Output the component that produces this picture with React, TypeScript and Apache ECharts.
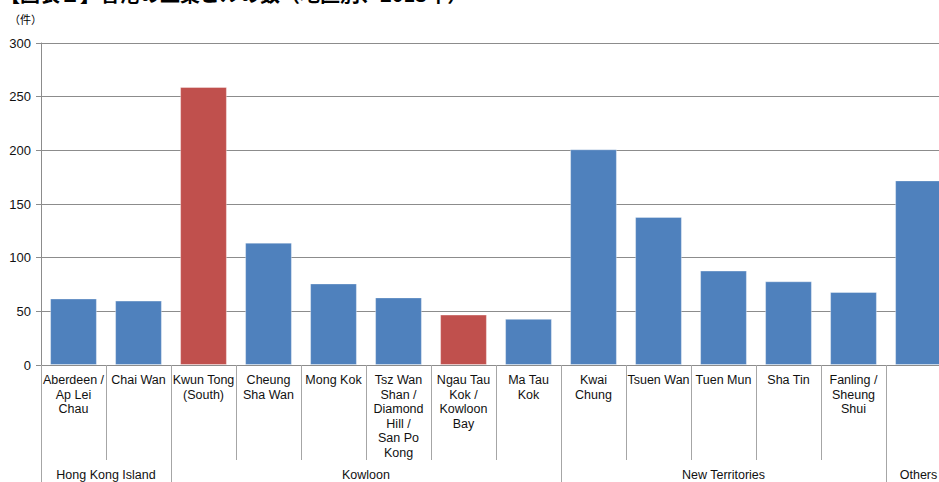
import React, { useEffect, useRef } from "react";
import * as echarts from "echarts";

const categories = [
  "Aberdeen /\nAp Lei\nChau",
  "Chai Wan",
  "Kwun Tong\n(South)",
  "Cheung\nSha Wan",
  "Mong Kok",
  "Tsz Wan\nShan /\nDiamond\nHill /\nSan Po\nKong",
  "Ngau Tau\nKok /\nKowloon\nBay",
  "Ma Tau\nKok",
  "Kwai\nChung",
  "Tsuen Wan",
  "Tuen Mun",
  "Sha Tin",
  "Fanling /\nSheung\nShui",
  "Others",
];
const values = [62, 60, 259, 114, 76, 63, 47, 43, 201, 138, 88, 78, 68, 172];
const highlighted = [false, false, true, false, false, false, true, false, false, false, false, false, false, false];
const groupNames = ["Hong Kong Island", "Kowloon", "New Territories", "Others"];
const groupBounds = [0, 2, 8, 13, 14];
const yTicks = { min: 0, max: 300, interval: 50 };

const BLUE = "#4f81bd";
const RED = "#c0504d";
const GRAY = "#8c8c8c";
const SEP = "#a6a6a6";
const FONT = "Liberation Sans, Arial, sans-serif";

export default function App() {
  const ref = useRef<HTMLDivElement>(null);
  useEffect(() => {
    if (!ref.current) return;
    const chart = echarts.init(ref.current, undefined, { renderer: "svg" });
    const groupCenters = groupNames.map((_, i) => (groupBounds[i] + groupBounds[i + 1]) / 2);
    chart.setOption({
      animation: false,
      backgroundColor: "#fff",
      textStyle: { fontFamily: FONT },
      graphic: [
        {
          type: "text",
          left: 0,
          top: -17,
          style: {
            text: "【図表１】香港の工業ビルの数（地区別、2013年）",
            font: "bold 20px 'Noto Sans CJK JP', sans-serif",
            fill: "#000",
          },
        },
        {
          type: "text",
          left: 9,
          top: 13,
          style: {
            text: "（件）",
            font: "11px 'Noto Sans CJK JP', sans-serif",
            fill: "#000",
          },
        },
      ],
      grid: { left: 41, top: 43, height: 322, width: 910, containLabel: false },
      xAxis: [
        {
          type: "category",
          data: categories,
          axisLine: { show: true, lineStyle: { color: GRAY, width: 1 } },
          axisTick: { show: true, length: 95, lineStyle: { color: SEP }, interval: 0 },
          axisLabel: {
            interval: 0,
            color: "#111",
            fontSize: 12.5,
            fontFamily: FONT,
            lineHeight: 14.5,
            margin: 8,
            verticalAlign: "top",
            formatter: (v: string, i: number) => (i === categories.length - 1 ? "" : v),
          },
        },
        {
          type: "value",
          position: "bottom",
          min: 0,
          max: 14,
          axisLine: { show: false },
          splitLine: { show: false },
          axisTick: {
            show: true,
            length: 118,
            customValues: groupBounds,
            lineStyle: { color: SEP },
          },
          axisLabel: {
            show: true,
            customValues: groupCenters,
            margin: 103,
            color: "#111",
            fontSize: 12.5,
            fontFamily: FONT,
            formatter: (v: number) => {
              const i = groupCenters.findIndex((c) => Math.abs(c - v) < 1e-6);
              return i >= 0 ? groupNames[i] : "";
            },
          },
        },
      ],
      yAxis: {
        type: "value",
        min: yTicks.min,
        max: yTicks.max,
        interval: yTicks.interval,
        axisLine: { show: true, lineStyle: { color: GRAY } },
        axisTick: { show: true, length: 5, lineStyle: { color: GRAY } },
        splitLine: { show: true, lineStyle: { color: GRAY, width: 1 } },
        axisLabel: { color: "#111", fontSize: 13, fontFamily: FONT, margin: 10 },
      },
      series: [
        {
          type: "bar",
          xAxisIndex: 0,
          barCategoryGap: "28%",
          data: values.map((v, i) => ({
            value: v,
            itemStyle: { color: highlighted[i] ? RED : BLUE },
          })),
          itemStyle: { borderColor: "rgba(255,255,255,0.35)", borderWidth: 1 },
        },
      ],
    });
    return () => chart.dispose();
  }, []);
  return (
    <div style={{ position: "absolute", left: 0, top: 0, width: 939, height: 482, overflow: "hidden", background: "#fff" }}>
      <div ref={ref} style={{ width: 960, height: 482 }} />
    </div>
  );
}
